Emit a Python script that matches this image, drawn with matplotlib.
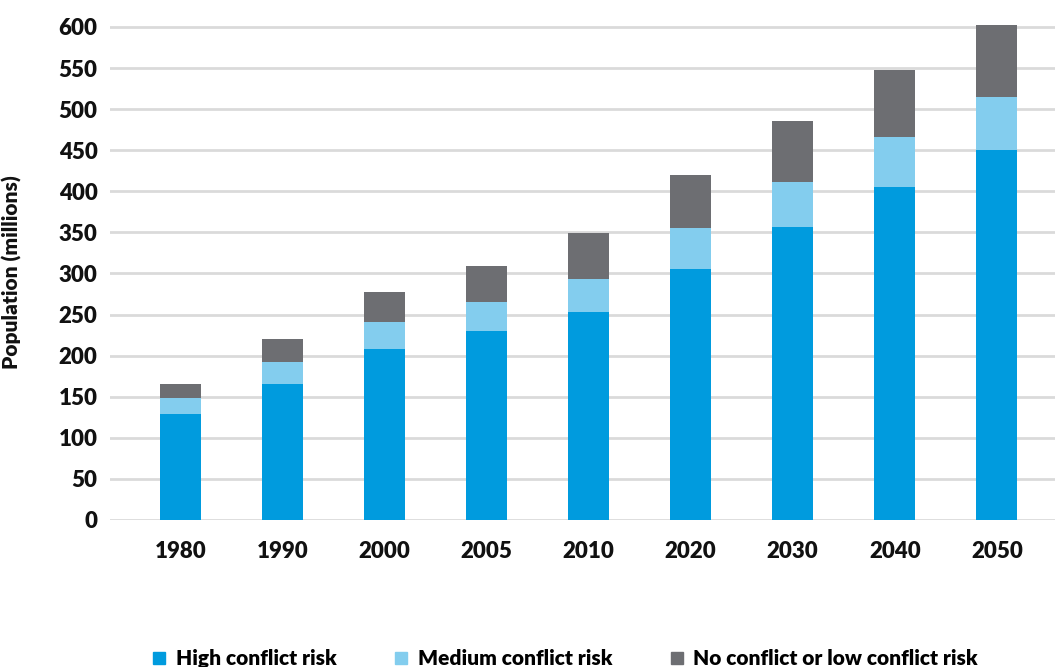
import numpy as np
import matplotlib.pyplot as plt
from matplotlib.lines import Line2D

plt.rcParams['font.family'] = ['Lato', 'DejaVu Sans']

years = ['1980', '1990', '2000', '2005', '2010', '2020', '2030', '2040', '2050']
high = [129, 166, 208, 230, 253, 306, 357, 405, 450]
medium = [19, 26, 33, 35, 40, 49, 54, 61, 65]
low = [18, 28, 36, 44, 56, 65, 75, 82, 87]

labels = ['High conflict risk', 'Medium conflict risk', 'No conflict or low conflict risk']
colors = ['#009BDE', '#83CDEE', '#6D6E72']

fig = plt.figure(figsize=(10.55, 6.67), dpi=100)
ax = fig.add_axes([0.1043, 0.2204, 0.8957, 0.7576])

x = np.arange(len(years))
high_a = np.array(high)
med_a = np.array(medium)
low_a = np.array(low)

ax.bar(x, high_a, width=0.4, color=colors[0], zorder=3)
ax.bar(x, med_a, width=0.4, bottom=high_a, color=colors[1], zorder=3)
ax.bar(x, low_a, width=0.4, bottom=high_a + med_a, color=colors[2], zorder=3)

ax.set_xlim(-0.69, 8.57)
ax.set_ylim(0, 615)
ax.set_yticks(np.arange(0, 601, 50))
ax.set_xticks(x)
ax.set_xticklabels(years)
ax.yaxis.grid(True, color='#DADADA', linewidth=2, zorder=0)
ax.set_axisbelow(True)
for s in ax.spines.values():
    s.set_visible(False)
ax.tick_params(length=0)
ax.tick_params(axis='y', pad=9)
ax.tick_params(axis='x', pad=15)
for t in ax.get_xticklabels() + ax.get_yticklabels():
    t.set_fontsize(16)
    t.set_fontweight('heavy')
    t.set_color('#111111')

ax.set_ylabel('Population (millions)', fontsize=15, fontweight='heavy', color='#111111')
ax.yaxis.set_label_coords(-0.093, 0.49)

handles = [Line2D([], [], marker='s', linestyle='none', markersize=9,
                  markerfacecolor=c, markeredgecolor=c) for c in colors]
fig.legend(handles, labels, loc='lower center', bbox_to_anchor=(0.534, -0.03),
           ncol=3, frameon=False, prop={'weight': 'heavy', 'size': 15},
           handletextpad=0.3, columnspacing=2.6, handlelength=1.0)

fig.savefig('out.png', dpi=100)
